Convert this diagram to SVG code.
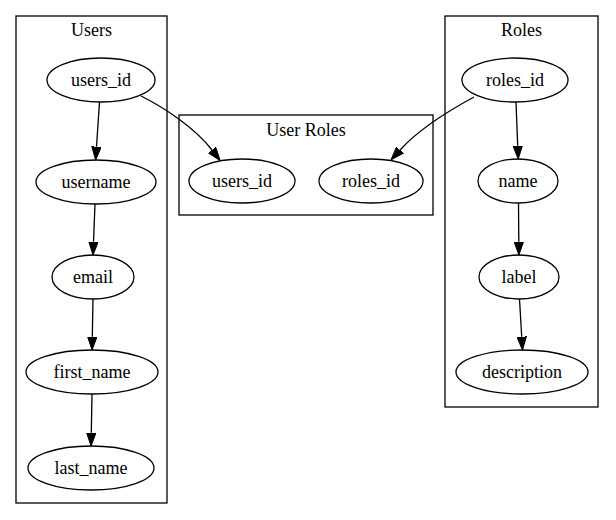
<svg xmlns="http://www.w3.org/2000/svg" width="616" height="520" viewBox="0 0 616 520">
<style>
text{font-family:"Liberation Serif","Times New Roman",serif;font-size:18px;fill:#000;text-anchor:middle}
.cl{fill:none;stroke:#000;stroke-width:1.3}
ellipse{fill:none;stroke:#000;stroke-width:1.3}
.e{fill:none;stroke:#000;stroke-width:1.3}
</style>
<defs>
<marker id="arr" viewBox="0 -5 14 10" markerWidth="14" markerHeight="10" refX="0" refY="0" orient="auto" markerUnits="userSpaceOnUse">
<polygon points="0,-4.7 13.3,0 0,4.7" fill="#000" stroke="#000" stroke-width="1"/>
</marker>
</defs>
<rect width="616" height="520" fill="#fff"/>
<g id="cluster_users"><rect class="cl" x="16" y="16" width="151" height="487"/><text x="91.5" y="36">Users</text></g>
<g id="cluster_user_roles"><rect class="cl" x="179" y="115" width="254" height="100"/><text x="306" y="136">User Roles</text></g>
<g id="cluster_roles"><rect class="cl" x="445" y="16" width="153" height="391"/><text x="521.5" y="36">Roles</text></g>
<g id="users_users_id"><ellipse cx="101" cy="80" rx="54" ry="22"/><text x="101" y="86">users_id</text></g>
<g id="users_username"><ellipse cx="96" cy="182" rx="60" ry="22"/><text x="96" y="188">username</text></g>
<g id="users_email"><ellipse cx="93" cy="277" rx="41" ry="22"/><text x="93" y="283">email</text></g>
<g id="users_first_name"><ellipse cx="92" cy="372" rx="66" ry="22"/><text x="92" y="378">first_name</text></g>
<g id="users_last_name"><ellipse cx="91" cy="468" rx="63" ry="22"/><text x="91" y="474">last_name</text></g>
<g id="ur_users_id"><ellipse cx="242" cy="181" rx="53" ry="22"/><text x="242" y="187">users_id</text></g>
<g id="ur_roles_id"><ellipse cx="371" cy="181" rx="52" ry="22"/><text x="371" y="187">roles_id</text></g>
<g id="roles_roles_id"><ellipse cx="515" cy="80" rx="53" ry="22"/><text x="515" y="86">roles_id</text></g>
<g id="roles_name"><ellipse cx="518" cy="181" rx="40" ry="22"/><text x="518" y="187">name</text></g>
<g id="roles_label"><ellipse cx="519" cy="277" rx="40" ry="22"/><text x="519" y="283">label</text></g>
<g id="roles_description"><ellipse cx="522" cy="372" rx="66" ry="22"/><text x="522" y="378">description</text></g>
<g id="edges">
<path class="e" marker-end="url(#arr)" d="M99.5,102 L96.5,146.7"/>
<path class="e" marker-end="url(#arr)" d="M95,204 L93.5,241.7"/>
<path class="e" marker-end="url(#arr)" d="M93,299 L92.3,336.7"/>
<path class="e" marker-end="url(#arr)" d="M92,394 L91.3,432.7"/>
<path class="e" marker-end="url(#arr)" d="M516,102 L517.7,145.7"/>
<path class="e" marker-end="url(#arr)" d="M518.5,203 L518.8,241.7"/>
<path class="e" marker-end="url(#arr)" d="M519.5,299 L521.7,336.7"/>
<path class="e" marker-end="url(#arr)" d="M141,96 C165,108 195,128 212,150"/>
<path class="e" marker-end="url(#arr)" d="M474,97 C450,110 420,128 400,150"/>
</g>
</svg>
